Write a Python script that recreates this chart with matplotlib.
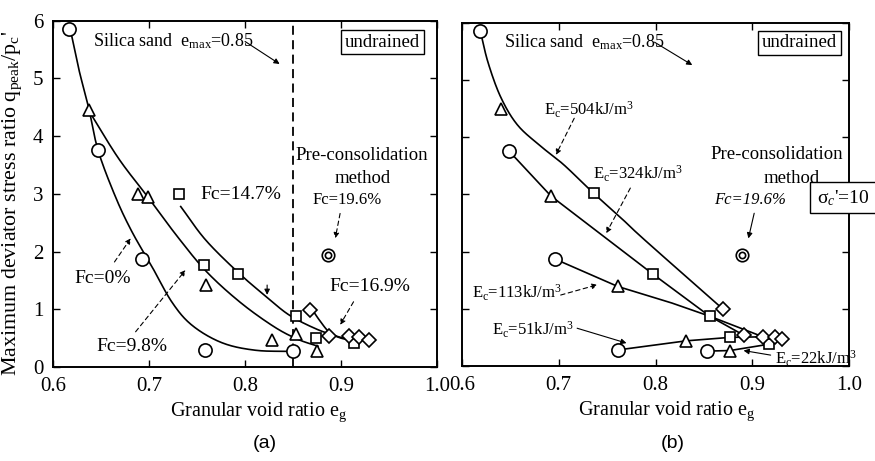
import numpy as np
import matplotlib
matplotlib.use('Agg')
import matplotlib.pyplot as plt

plt.rcParams['font.family'] = ['Liberation Serif', 'DejaVu Serif']
plt.rcParams['mathtext.fontset'] = 'custom'
plt.rcParams['mathtext.rm'] = 'Liberation Serif'
plt.rcParams['mathtext.it'] = 'Liberation Serif:italic'

# ---- (a) fines content series ----
a_circ_x = [0.617, 0.647, 0.693, 0.758, 0.850]
a_circ_y = [5.86, 3.76, 1.87, 0.30, 0.27]
a_tri_x = [0.637, 0.688, 0.699, 0.759, 0.828, 0.853, 0.875]
a_tri_y = [4.45, 2.99, 2.94, 1.42, 0.46, 0.57, 0.28]
a_sq_x = [0.731, 0.757, 0.793, 0.853, 0.874, 0.914]
a_sq_y = [2.99, 1.77, 1.62, 0.88, 0.50, 0.41]
a_dia_x = [0.868, 0.887, 0.908, 0.919, 0.929]
a_dia_y = [0.99, 0.54, 0.53, 0.52, 0.47]
a_pre_x, a_pre_y = [0.886], [1.94]

# fitted trend curves (knots)
fc0_x = [0.618, 0.627, 0.637, 0.647, 0.665, 0.682, 0.703, 0.724, 0.745, 0.776, 0.811, 0.850]
fc0_y = [5.85, 5.15, 4.50, 3.75, 2.95, 2.35, 1.74, 1.12, 0.72, 0.42, 0.29, 0.27]
fc98_x = [0.637, 0.668, 0.699, 0.730, 0.760, 0.795, 0.830, 0.855, 0.876]
fc98_y = [4.45, 3.62, 2.94, 2.25, 1.65, 1.12, 0.70, 0.48, 0.36]
fc147_x = [0.733, 0.759, 0.794, 0.822, 0.846, 0.874, 0.898, 0.912]
fc147_y = [2.78, 2.20, 1.62, 1.22, 0.90, 0.66, 0.52, 0.47]
fc169_x = [0.869, 0.878, 0.888, 0.900, 0.912]
fc169_y = [1.02, 0.80, 0.60, 0.50, 0.47]

# ---- (b) compaction energy series ----
b_circ_x = [0.619, 0.649, 0.696, 0.761, 0.853]
b_circ_y = [5.85, 3.75, 1.87, 0.28, 0.26]
b_tri_x = [0.640, 0.692, 0.761, 0.832, 0.877]
b_tri_y = [4.49, 2.97, 1.39, 0.44, 0.27]
b_sq_x = [0.736, 0.797, 0.856, 0.877, 0.917]
b_sq_y = [3.02, 1.61, 0.87, 0.50, 0.38]
b_dia_x = [0.870, 0.891, 0.911, 0.923, 0.931]
b_dia_y = [0.99, 0.54, 0.51, 0.51, 0.47]
b_pre_x, b_pre_y = [0.889], [1.94]

e504_x = [0.619, 0.627, 0.640, 0.657, 0.680, 0.705, 0.736, 0.763, 0.789, 0.870]
e504_y = [5.85, 5.30, 4.70, 4.22, 3.86, 3.52, 3.02, 2.61, 2.20, 0.99]
e324_x = [0.649, 0.692, 0.797, 0.856, 0.891]
e324_y = [3.75, 2.97, 1.61, 0.87, 0.54]
e113_x = [0.696, 0.761, 0.817, 0.856, 0.911]
e113_y = [1.87, 1.39, 1.10, 0.87, 0.51]
e51_x = [0.761, 0.832, 0.877, 0.911]
e51_y = [0.28, 0.44, 0.50, 0.51]
e22_x = [0.853, 0.877, 0.917, 0.931]
e22_y = [0.26, 0.27, 0.38, 0.47]


def smooth(xs, ys, n=20):
    # Catmull-Rom pass through the knots so the trend line is drawn round
    p = np.column_stack([xs, ys])
    p = np.vstack([p[0] * 2 - p[1], p, p[-1] * 2 - p[-2]])
    out = []
    t = np.linspace(0, 1, n, endpoint=False)[:, None]
    for i in range(1, len(p) - 2):
        p0, p1, p2, p3 = p[i - 1], p[i], p[i + 1], p[i + 2]
        seg = 0.5 * ((2 * p1) + (-p0 + p2) * t + (2 * p0 - 5 * p1 + 4 * p2 - p3) * t ** 2
                     + (-p0 + 3 * p1 - 3 * p2 + p3) * t ** 3)
        out.append(seg)
    out.append(p[-2][None, :])
    out = np.vstack(out)
    return out[:, 0], out[:, 1]


mk = dict(linestyle='none', markerfacecolor='white', markeredgecolor='black',
          markeredgewidth=1.2, zorder=4)


def draw_markers(ax, cx, cy, tx, ty, sx, sy, dx, dy, px, py):
    ax.plot(cx, cy, marker='o', markersize=9.5, **mk)
    ax.plot(tx, ty, marker='^', markersize=8.5, **mk)
    ax.plot(sx, sy, marker='s', markersize=7.5, **mk)
    ax.plot(dx, dy, marker='D', markersize=7, **mk)
    ax.plot(px, py, marker='o', markersize=9, **mk)
    ax.plot(px, py, marker='o', markersize=4.5, **mk)


def style_axes(ax):
    ax.set_xlim(0.6, 1.0)
    ax.set_ylim(0, 6)
    ax.set_xticks([0.6, 0.7, 0.8, 0.9, 1.0])
    ax.set_yticks(range(0, 7))
    ax.tick_params(direction='in', top=True, right=True, length=5, width=1.0,
                   labelsize=15, pad=7)
    for s in ax.spines.values():
        s.set_linewidth(1.4)


def arrow(ax, start, end, dashed=False):
    ax.annotate('', xy=end, xytext=start,
                arrowprops=dict(arrowstyle='-|>', lw=0.8, color='black',
                                linestyle=(0, (4, 3)) if dashed else '-',
                                mutation_scale=8, shrinkA=0, shrinkB=0))


fig = plt.figure(figsize=(8.75, 4.61), dpi=100)
ax1 = fig.add_axes([0.0606, 0.2039, 0.4389, 0.7512])
ax2 = fig.add_axes([0.5280, 0.2061, 0.4423, 0.7446])

# ---------- panel (a) ----------
for xs, ys in [(fc0_x, fc0_y), (fc98_x, fc98_y), (fc147_x, fc147_y), (fc169_x, fc169_y)]:
    sx, sy = smooth(xs, ys)
    ax1.plot(sx, sy, color='black', lw=1.2, zorder=3)
draw_markers(ax1, a_circ_x, a_circ_y, a_tri_x, a_tri_y, a_sq_x, a_sq_y,
             a_dia_x, a_dia_y, a_pre_x, a_pre_y)
ax1.axvline(0.85, color='black', lw=1.3, linestyle=(0, (5, 3)), zorder=2)
style_axes(ax1)

ax1.text(0.642, 5.65, 'Silica sand  e$_{\\rm max}$=0.85', fontsize=13, va='center')
arrow(ax1, (0.800, 5.64), (0.836, 5.25))
ax1.text(0.943, 5.63, 'undrained', fontsize=13.5, ha='center', va='center',
         bbox=dict(boxstyle='square,pad=0.2', fc='white', ec='black', lw=1.0))
ax1.text(0.753, 2.99, 'Fc=14.7%', fontsize=14, va='center')
arrow(ax1, (0.823, 1.42), (0.823, 1.25))
ax1.text(0.652, 1.54, 'Fc=0%', fontsize=14, ha='center', va='center')
arrow(ax1, (0.664, 1.82), (0.681, 2.23), dashed=True)
ax1.text(0.682, 0.35, 'Fc=9.8%', fontsize=14, ha='center', va='center')
arrow(ax1, (0.686, 0.61), (0.738, 1.68), dashed=True)
ax1.text(0.922, 3.66, 'Pre-consolidation', fontsize=13.5, ha='center', va='center')
ax1.text(0.923, 3.27, 'method', fontsize=13.5, ha='center', va='center')
ax1.text(0.906, 2.89, 'Fc=19.6%', fontsize=12, ha='center', va='center')
arrow(ax1, (0.899, 2.66), (0.894, 2.23), dashed=True)
ax1.text(0.930, 1.39, 'Fc=16.9%', fontsize=14, ha='center', va='center')
arrow(ax1, (0.913, 1.13), (0.899, 0.73), dashed=True)

ax1.text(0.535, -0.098, 'Granular void ratio e$_{\\rm g}$', fontsize=14.5,
         ha='center', va='top', transform=ax1.transAxes)

# ---------- panel (b) ----------
sx, sy = smooth(e504_x, e504_y)
ax2.plot(sx, sy, color='black', lw=1.2, zorder=3)
for xs, ys in [(e324_x, e324_y), (e113_x, e113_y), (e51_x, e51_y), (e22_x, e22_y)]:
    ax2.plot(xs, ys, color='black', lw=1.2, zorder=3)
draw_markers(ax2, b_circ_x, b_circ_y, b_tri_x, b_tri_y, b_sq_x, b_sq_y,
             b_dia_x, b_dia_y, b_pre_x, b_pre_y)
style_axes(ax2)
ax2.set_yticklabels([])

ax2.text(0.643, 5.66, 'Silica sand  e$_{\\rm max}$=0.85', fontsize=13, va='center')
arrow(ax2, (0.799, 5.66), (0.838, 5.26))
ax2.text(0.949, 5.65, 'undrained', fontsize=13.5, ha='center', va='center',
         bbox=dict(boxstyle='square,pad=0.2', fc='white', ec='black', lw=1.0))
ax2.text(0.685, 4.48, 'E$_{\\rm c}$=504kJ/m$^3$', fontsize=12, va='center')
arrow(ax2, (0.716, 4.33), (0.697, 3.69), dashed=True)
ax2.text(0.735, 3.36, 'E$_{\\rm c}$=324kJ/m$^3$', fontsize=12, va='center')
arrow(ax2, (0.774, 3.11), (0.749, 2.32), dashed=True)
ax2.text(0.925, 3.69, 'Pre-consolidation', fontsize=13.5, ha='center', va='center')
ax2.text(0.941, 3.28, 'method', fontsize=13.5, ha='center', va='center')
ax2.text(0.898, 2.90, 'Fc=19.6%', fontsize=12, style='italic', ha='center', va='center')
arrow(ax2, (0.902, 2.67), (0.896, 2.23))
# confining pressure box, running off the right edge of the figure
fig.patches.append(plt.Rectangle((810 / 875, 1 - 213 / 461), 0.1, 30.5 / 461,
                                 transform=fig.transFigure, fc='white',
                                 ec='black', lw=1.0, zorder=5))
fig.text(817 / 875, 1 - 198 / 461, "σ$_c$'=10", fontsize=14, va='center', zorder=6)
ax2.text(0.610, 1.27, 'E$_{\\rm c}$=113kJ/m$^3$', fontsize=12, va='center')
arrow(ax2, (0.702, 1.24), (0.740, 1.42), dashed=True)
ax2.text(0.631, 0.63, 'E$_{\\rm c}$=51kJ/m$^3$', fontsize=12, va='center')
arrow(ax2, (0.719, 0.66), (0.770, 0.40))
ax2.text(0.924, 0.13, 'E$_{\\rm c}$=22kJ/m$^3$', fontsize=12, va='center')
arrow(ax2, (0.919, 0.19), (0.891, 0.27))

ax2.text(0.53, -0.098, 'Granular void ratio e$_{\\rm g}$', fontsize=14.5,
         ha='center', va='top', transform=ax2.transAxes)

fig.text(0.014, 0.56, "Maximum deviator stress ratio q$_{\\rm peak}$/p$_{\\rm c}$'",
         rotation=90, fontsize=15.8, ha='center', va='center')
fig.text(265 / 875, 1 - 443 / 461, '(a)', fontsize=14, family='Liberation Sans',
         ha='center', va='center')
fig.text(673 / 875, 1 - 443 / 461, '(b)', fontsize=14, family='Liberation Sans',
         ha='center', va='center')

fig.savefig('out.png', dpi=100)
